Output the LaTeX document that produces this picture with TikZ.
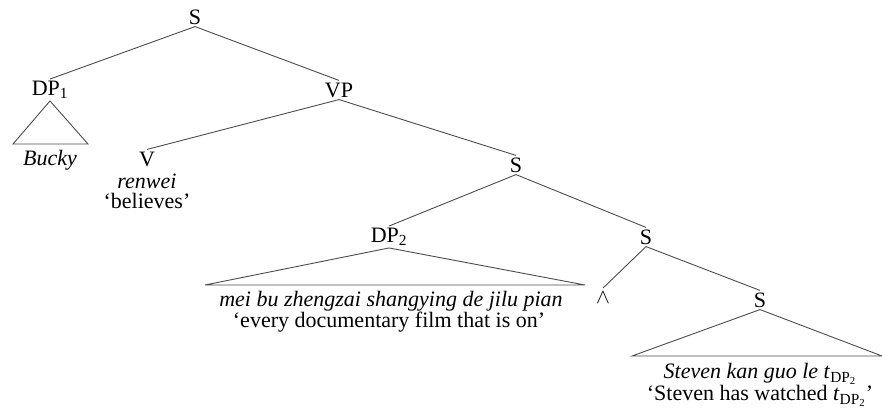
\documentclass[tikz,border=0pt]{standalone}
\usepackage{fontspec}
\setmainfont{Liberation Serif}
\begin{document}
\begin{tikzpicture}[x=1pt,y=-1pt,
  lab/.style={inner sep=2pt, font=\fontsize{22}{25}\selectfont},
  edge/.style={draw=black!70, line width=0.9pt}]
\useasboundingbox (0,0) rectangle (882,414);
% nodes
\node[lab] (S0) at (195,17) {S};
\node[lab] (DP1) at (50,90) {DP\textsubscript{1}};
\node[lab] (VP) at (339,90) {VP};
\node[lab] (bucky) at (50,160) {\textit{Bucky}};
\node[lab] (V) at (147,159) {V};
\node[lab] (renwei) at (147,181) {\textit{renwei}};
\node[lab] (believes) at (147,201) {`believes'};
\node[lab] (S1) at (516,165) {S};
\node[lab] (DP2) at (389,237) {DP\textsubscript{2}};
\node[lab] (S2) at (646,237) {S};
\node[lab] (mei) at (391,301) {\textit{mei bu zhengzai shangying de jilu pian}};
\node[lab] (every) at (389,322) {`every documentary film that is on'};
\node[lab, inner sep=4pt] (wedge) at (603,298) {$\wedge$};
\node[lab] (S3) at (760,300) {S};
\node[lab] (steven) at (760,374) {\textit{Steven kan guo le t}\textsubscript{DP\textsubscript{2}}};
\node[lab] (watched) at (760,396) {`Steven has watched \textit{t}\textsubscript{DP\textsubscript{2}}'};
% triangle base corners
\coordinate (b1l) at (13,144);
\coordinate (b1r) at (88,144);
\coordinate (b2l) at (205,285);
\coordinate (b2r) at (585,285);
\coordinate (b3l) at (632,356);
\coordinate (b3r) at (882,356);
% edges
\draw[edge] (S0.south) -- (DP1.north);
\draw[edge] (S0.south) -- (VP.north);
\draw[edge] (VP.south) -- (V.north);
\draw[edge] (VP.south) -- (S1.north);
\draw[edge] (S1.south) -- (DP2.north);
\draw[edge] (S1.south) -- (S2.north);
\draw[edge] (S2.south) -- (wedge.north);
\draw[edge] (S2.south) -- (S3.north);
\draw[edge] (DP1.south) -- (b1l) -- (b1r) -- cycle;
\draw[edge] (DP2.south) -- (b2l) -- (b2r) -- cycle;
\draw[edge] (S3.south) -- (b3l) -- (b3r) -- cycle;
\end{tikzpicture}
\end{document}
